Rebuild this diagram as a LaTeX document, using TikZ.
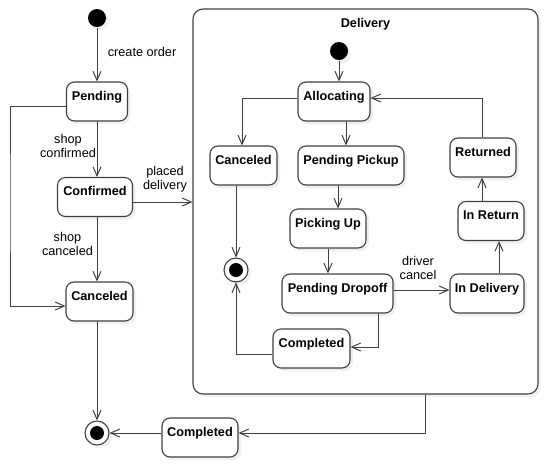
\documentclass[tikz,border=0pt]{standalone}
\usepackage{fontspec}
\setmainfont{Liberation Sans}
\usetikzlibrary{arrows.meta,shadows}

\begin{document}
\begin{tikzpicture}[x=1pt, y=-1pt, line width=1pt, draw=black!75,
    >={Straight Barb[length=9pt,width=8pt]},
    every node/.style={font=\fontsize{12.7}{13.5}\selectfont, align=center},
    shade/.style={drop shadow={opacity=0.12, shadow xshift=3pt, shadow yshift=-3pt}},
    statebox/.style={rectangle, draw=black!75, line width=1.1pt, fill=white, rounded corners=8pt, shade, font=\fontsize{12.7}{13.5}\selectfont\bfseries, inner xsep=2pt, inner ysep=0pt, text height=18pt, text depth=21pt},
    startdot/.style={circle, fill=black, inner sep=0pt, minimum size=18pt, shade},
    enddot/.style={circle, draw=black!75, line width=1.1pt, fill=white, inner sep=0pt, minimum size=24pt, shade, path picture={\fill[black] (path picture bounding box.center) circle (7pt);}}]
    \useasboundingbox (0,0) rectangle (548,467);

    % Define blocks
    \node (delivery) [statebox, rounded corners=10pt, minimum width=345pt, text depth=367pt] at (365.5,201.5) {Delivery};

    \node (start0) [startdot] at (97,18) {};
    \node (pending) [statebox, minimum width=61pt] at (97,101.5) {Pending};
    \node (confirmed) [statebox, minimum width=75pt] at (95,197) {Confirmed};
    \node (canceled) [statebox, minimum width=67pt] at (99.5,301.5) {Canceled};
    \node (completed) [statebox, minimum width=76pt] at (200,437.5) {Completed};
    \node (end0) [enddot] at (97,433) {};

    \node (start1) [startdot] at (339,51) {};
    \node (allocating) [statebox, minimum width=72pt] at (334,101.5) {Allocating};
    \node (canceled1) [statebox, minimum width=67pt] at (243.5,165.5) {Canceled};
    \node (pendpick) [statebox, minimum width=106pt] at (351,165.5) {Pending Pickup};
    \node (pickingup) [statebox, minimum width=76pt] at (328,228.5) {Picking Up};
    \node (penddrop) [statebox, minimum width=111pt] at (337.5,293.5) {Pending Dropoff};
    \node (completed1) [statebox, minimum width=77pt] at (311.5,348.5) {Completed};
    \node (end1) [enddot] at (236,270) {};
    \node (indelivery) [statebox, minimum width=74pt] at (487,293.5) {In Delivery};
    \node (inreturn) [statebox, minimum width=66pt] at (491,221) {In Return};
    \node (returned) [statebox, minimum width=66pt] at (483,157.5) {Returned};

    \coordinate (leftbus) at (10,200);

    % Draw arrows
    \draw[->] (start0) -- (pending);
    \draw[->] (pending.south) -- ([xshift=2pt]confirmed.north);
    \draw[->] ([xshift=2pt]confirmed.south) -- ([xshift=-2.5pt]canceled.north);
    \draw[->] ([yshift=-4.5pt]pending.west) -| (leftbus) |- ([yshift=-4.5pt]canceled.west);
    \draw[->] ([xshift=-2.5pt]canceled.south) -- (end0);
    \draw[->] ([yshift=-5pt]confirmed.east) -- ([yshift=-5pt]confirmed.east -| delivery.west);
    \draw[->] ([xshift=59.5pt]delivery.south) |- ([yshift=4.5pt]completed.east);
    \draw[->] ([yshift=4.5pt]completed.west) -- (end0);

    \draw[->] (start1) -- ([xshift=5pt]allocating.north);
    \draw[->] ([yshift=3.5pt]allocating.west) -| ([xshift=-1.5pt]canceled1.north);
    \draw[->] ([xshift=12pt]allocating.south) -- ([xshift=-5pt]pendpick.north);
    \draw[->] ([xshift=-13pt]pendpick.south) -- ([xshift=10pt]pickingup.north);
    \draw[->] (pickingup.south) -- ([xshift=-9.5pt]penddrop.north);
    \draw[->] ([yshift=3.5pt]penddrop.east) -- ([yshift=3.5pt]indelivery.west);
    \draw[->] ([xshift=12pt]indelivery.north) -- ([xshift=8pt]inreturn.south);
    \draw[->] ([xshift=-9pt]inreturn.north) -- ([xshift=-1pt]returned.south);
    \draw[->] ([xshift=-1pt]returned.north) |- ([yshift=3.5pt]allocating.east);
    \draw[->] ([xshift=40.5pt]penddrop.south) |- ([yshift=1.5pt]completed1.east);
    \draw[->] ([yshift=-5.5pt]completed1.west) -| (end1);
    \draw[->] ([xshift=-7.5pt]canceled1.south) -- (end1);

    % Labels
    \node (createorder) [anchor=west] at (104,52) {create order};
    \node (shopconfirmed) at (68,146) {shop\\confirmed};
    \node (placeddelivery) at (165,179) {placed\\delivery};
    \node (shopcanceled) at (67.5,244) {shop\\canceled};
    \node (drivercancel) at (418,268) {driver\\cancel};
\end{tikzpicture}
\end{document}
